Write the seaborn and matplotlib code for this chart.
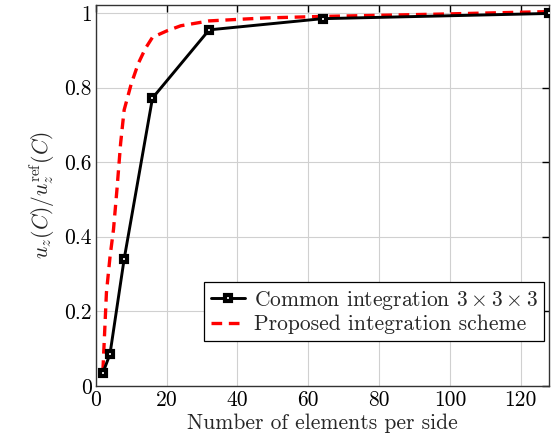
import matplotlib
matplotlib.use("Agg")
import matplotlib.pyplot as plt
import seaborn as sns
import pandas as pd

# Data
common_x = [2, 4, 8, 16, 32, 64, 128]
common_y = [0.035, 0.085, 0.34, 0.772, 0.955, 0.985, 0.999]
proposed_x = [2, 3, 4, 5, 6, 7, 8, 10, 12, 14, 16, 20, 24, 32, 48, 64, 96, 128]
proposed_y = [0.04, 0.25, 0.345, 0.42, 0.53, 0.65, 0.74, 0.81, 0.865, 0.905,
              0.935, 0.952, 0.966, 0.979, 0.987, 0.991, 0.997, 1.004]
xticks = [0, 20, 40, 60, 80, 100, 120]
yticks = [0, 0.2, 0.4, 0.6, 0.8, 1]
ytick_labels = ["0", "0.2", "0.4", "0.6", "0.8", "1"]
label_common = r"Common integration $3\times3\times3$"
label_proposed = "Proposed integration scheme"

sns.set_style("white")
plt.rcParams["font.family"] = "serif"
plt.rcParams["font.serif"] = ["cmr10"]
plt.rcParams["mathtext.fontset"] = "cm"
plt.rcParams["axes.formatter.use_mathtext"] = True
plt.rcParams["axes.unicode_minus"] = False

FS = 15.5

fig = plt.figure(figsize=(5.57, 4.43), dpi=100)
ax = fig.add_axes([0.172, 0.129, 0.814, 0.86])

df_c = pd.DataFrame({"x": common_x, "y": common_y})
df_p = pd.DataFrame({"x": proposed_x, "y": proposed_y})

sns.lineplot(data=df_c, x="x", y="y", ax=ax, color="black", lw=2.1,
             marker="s", markersize=5.0, markerfacecolor="white",
             markeredgecolor="black", markeredgewidth=3.0,
             label=label_common, zorder=4)
sns.lineplot(data=df_p, x="x", y="y", ax=ax, color="red", lw=2.4,
             label=label_proposed, zorder=3)
ax.lines[-1].set_dashes([3.2, 2.0])

ax.set_xlim(0, 128)
ax.set_ylim(0, 1.022)
ax.set_xticks(xticks)
ax.set_xticklabels([str(t) for t in xticks])
ax.set_yticks(yticks)
ax.set_yticklabels(ytick_labels)
ax.tick_params(direction="in", length=5, width=1.0, top=True, right=True,
               labelsize=FS, pad=3, colors="black")
ax.grid(True, color="#d0d0d0", lw=0.8)
ax.set_axisbelow(True)
for s in ax.spines.values():
    s.set_color("#333333")
    s.set_linewidth(1.0)

ax.set_xlabel("Number of elements per side", fontsize=FS, labelpad=3)
ax.set_ylabel(r"$u_z(C)/u_z^{\mathrm{ref}}(C)$", fontsize=FS, labelpad=5)

leg = ax.legend(loc="lower right", bbox_to_anchor=(0.989, 0.118), fontsize=FS,
                frameon=True, fancybox=False, framealpha=1, edgecolor="black",
                borderpad=0.3, handlelength=1.6, handletextpad=0.4,
                labelspacing=0.15, borderaxespad=0)
leg.get_frame().set_linewidth(0.9)

fig.savefig("out.png", dpi=100)
